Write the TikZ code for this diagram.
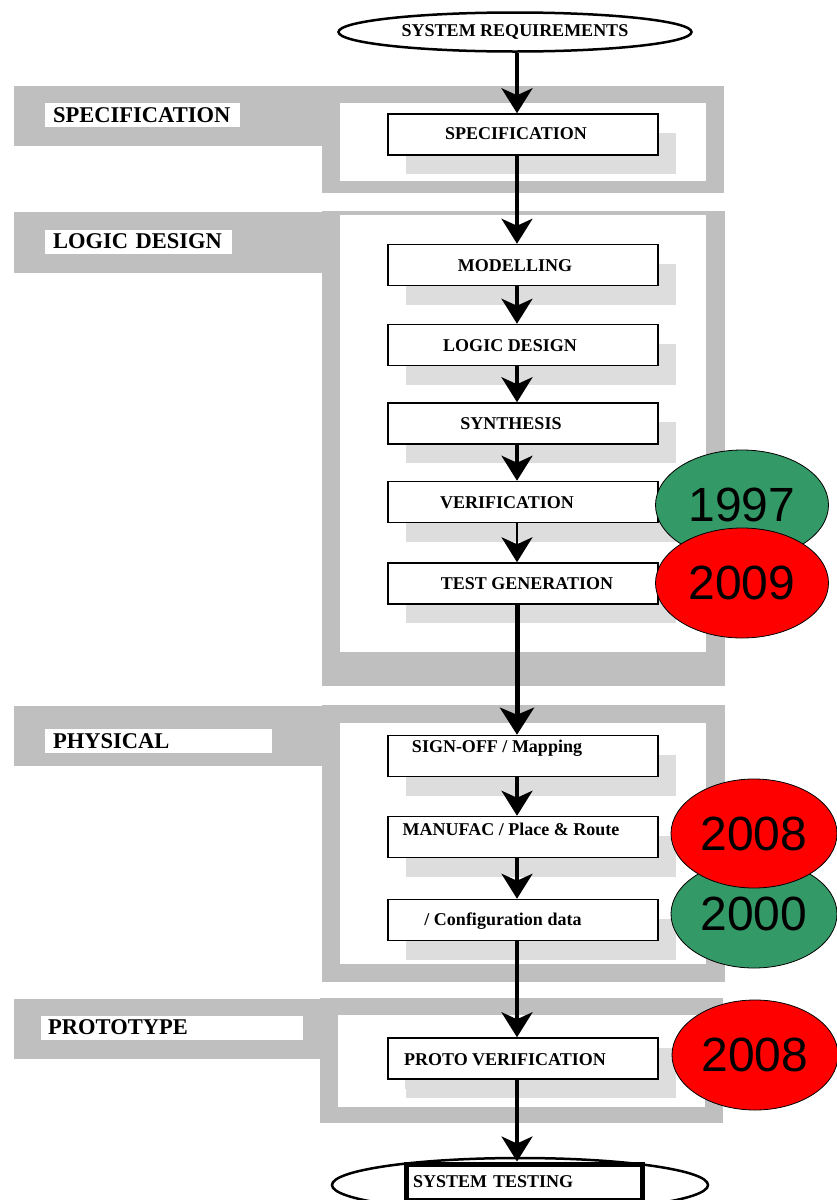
\documentclass[tikz,border=0pt]{standalone}
\usepackage{fontspec}
\setmainfont{Liberation Serif}
\newfontfamily\yearfont{Liberation Sans}
\usetikzlibrary{shapes.geometric,arrows.meta,shadows}
\definecolor{panelgray}{RGB}{191,191,191}
\definecolor{shadowgray}{RGB}{221,221,221}
\definecolor{yeargreen}{RGB}{51,153,102}
\definecolor{yearred}{RGB}{255,0,0}

\tikzset{
  panel/.style={fill=panelgray},
  tag/.style={fill=white, anchor=west, inner xsep=8pt, inner ysep=0pt, minimum height=24pt,
    align=left, font=\bfseries\fontsize{22.5}{22.5}\selectfont},
  stage/.style={draw, line width=1.5pt, fill=white, minimum width=270pt, minimum height=41pt,
    drop shadow={shadow xshift=18pt, shadow yshift=-19pt, fill=shadowgray, opacity=1}},
  stagetext/.style={inner sep=0pt, font=\bfseries\fontsize{18}{18}\selectfont},
  terminal/.style={ellipse, draw, line width=2.5pt, fill=white, inner sep=0pt},
  year/.style={ellipse, draw, line width=0.8pt, minimum width=173pt, minimum height=110pt,
    inner sep=0pt, font=\yearfont\fontsize{48}{48}\selectfont},
  flow/.style={-{Stealth[length=25pt, width=31pt, inset=7pt]}, line width=3.5pt},
}

\begin{document}
\begin{tikzpicture}[x=1pt, y=-1pt]
        \useasboundingbox (0,0) rectangle (836,1200);
        \coordinate (axis) at (517,0);

        % Phase panels
        % Specification
        \fill[panel] (14,86) rectangle (724,146);
        \fill[panel] (322,86) rectangle (724,193);
        \fill[white] (340,103) rectangle (706,181);
        % Logic design
        \fill[panel] (14,212) rectangle (322,273);
        \fill[panel] (322,211) rectangle (725,686);
        \fill[white] (340,215) rectangle (706,652);
        % Physical
        \fill[panel] (14,706) rectangle (322,766);
        \fill[panel] (322,705) rectangle (725,982);
        \fill[white] (340,723) rectangle (706,964);
        % Prototype
        \fill[panel] (14,999) rectangle (320,1059);
        \fill[panel] (320,998) rectangle (723,1123);
        \fill[white] (338,1015) rectangle (705,1107);

        % Phase tags
        \node[tag, text width=179pt] (tagspec) at (45,115) {SPECIFICATION};
        \node[tag, text width=171pt] (taglogic) at (45,241.5) {LOGIC DESIGN};
        \node[tag, text width=211pt] (tagphys) at (45,741) {PHYSICAL};
        \node[tag, text width=248pt, inner xsep=7pt] (tagproto) at (41,1027.5) {PROTOTYPE};

        % Terminals
        \node[terminal, minimum width=353pt, minimum height=39pt, font=\bfseries\fontsize{18}{18}\selectfont]
            (req) at (515,32) {SYSTEM REQUIREMENTS};
        \node[terminal, minimum width=376pt, minimum height=54pt] (systest) at (520,1185) {};
        \node[draw, line width=5pt, fill=white, minimum width=236pt, minimum height=36pt,
            text width=222pt, inner xsep=5pt, align=left, font=\bfseries\fontsize{18}{18}\selectfont]
            (systestbox) at (524,1182) {SYSTEM TESTING};

        % Stages
        \node[stage] (spec) at (523,134.5) {};
        \node[stage] (model) at (523,265) {};
        \node[stage] (logic) at (523,345) {};
        \node[stage] (synth) at (523,423.5) {};
        \node[stage] (verif) at (523,502) {};
        \node[stage] (testgen) at (523,583.5) {};
        \node[stage] (sign) at (523,756) {};
        \node[stage] (manuf) at (523,837) {};
        \node[stage] (config) at (523,920) {};
        \node[stage, drop shadow={shadow xshift=17pt, shadow yshift=-10pt, fill=shadowgray, opacity=1}]
            (proto) at (523,1058.5) {};

        \node[stagetext] (spec-t) at (516,134) {SPECIFICATION};
        \node[stagetext] (model-t) at (515,266) {MODELLING};
        \node[stagetext] (logic-t) at (510,346) {LOGIC DESIGN};
        \node[stagetext] (synth-t) at (511,424) {SYNTHESIS};
        \node[stagetext] (verif-t) at (507,503) {VERIFICATION};
        \node[stagetext] (testgen-t) at (527,584) {TEST GENERATION};
        \node[stagetext] (sign-t) at (497,748) {SIGN-OFF / Mapping};
        \node[stagetext] (manuf-t) at (511,829) {MANUFAC / Place \& Route};
        \node[stagetext] (config-t) at (503,921) {/ Configuration data};
        \node[stagetext] (proto-t) at (505,1060) {PROTO VERIFICATION};

        % Years
        \node[year, fill=yeargreen] (y1997) at (742,505) {1997};
        \node[year, fill=yearred] (y2009) at (742,583) {2009};
        \node[year, fill=yeargreen, minimum width=166pt, minimum height=108pt] (y2000) at (754,914) {2000};
        \node[year, fill=yearred, minimum width=166pt, minimum height=109pt] (y2008a) at (754,833.5) {2008};
        \node[year, fill=yearred, minimum width=166pt] (y2008b) at (755,1055) {2008};

        % Flow
        \draw[flow] (req.south -| axis) -- (spec.north -| axis);
        \draw[flow] (spec.south -| axis) -- (model.north -| axis);
        \draw[flow] (model.south -| axis) -- (logic.north -| axis);
        \draw[flow] (logic.south -| axis) -- (synth.north -| axis);
        \draw[flow] (synth.south -| axis) -- (verif.north -| axis);
        \draw[flow, line width=2pt] (verif.south -| axis) -- (testgen.north -| axis);
        \draw[flow, line width=5pt, -{Stealth[length=27pt, width=34pt, inset=7pt]}] (testgen.south -| axis) -- (sign.north -| axis);
        \draw[flow] (sign.south -| axis) -- (manuf.north -| axis);
        \draw[flow] (manuf.south -| axis) -- (config.north -| axis);
        \draw[flow] (config.south -| axis) -- (proto.north -| axis);
        \draw[flow] (proto.south -| axis) -- (systestbox.north -| axis);
\end{tikzpicture}
\end{document}
